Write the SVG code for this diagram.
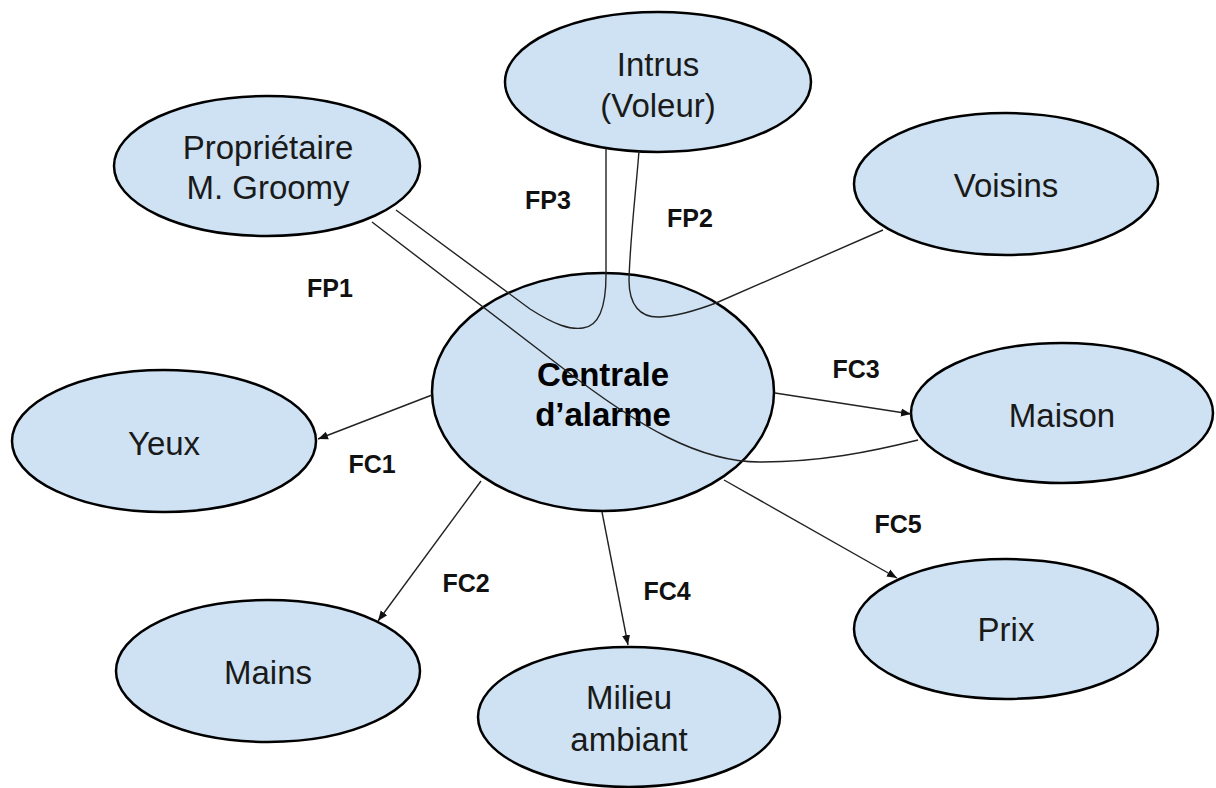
<svg xmlns="http://www.w3.org/2000/svg" width="1216" height="788" viewBox="0 0 1216 788">
<style>
.node ellipse{fill:#cfe2f3;stroke:#000;stroke-width:2.5}
.nt{font-family:"Liberation Sans",Arial,sans-serif;font-size:33px;fill:#1a1a1a;text-anchor:middle}
.bt{font-weight:bold;fill:#000}
.lbl{font-family:"Liberation Sans",Arial,sans-serif;font-size:25px;font-weight:bold;fill:#111;text-anchor:middle}
.c{fill:none;stroke:#222;stroke-width:1.4}
.a{marker-end:url(#ah)}
</style>
<defs>
<marker id="ah" markerUnits="userSpaceOnUse" markerWidth="12" markerHeight="10" refX="10" refY="5" orient="auto">
<path d="M0,1 L10,5 L0,9 Z" fill="#111"/>
</marker>
</defs>
<rect width="1216" height="788" fill="#fff"/>
<g id="proprietaire" class="node"><ellipse cx="267" cy="166" rx="153" ry="70"/><text class="nt" x="268" y="159">Propriétaire</text><text class="nt" x="268" y="199">M. Groomy</text></g>
<g id="intrus" class="node"><ellipse cx="658" cy="82" rx="153" ry="70"/><text class="nt" x="658" y="76">Intrus</text><text class="nt" x="658" y="117">(Voleur)</text></g>
<g id="voisins" class="node"><ellipse cx="1006" cy="184" rx="152" ry="71"/><text class="nt" x="1006" y="197">Voisins</text></g>
<g id="centrale" class="node"><ellipse cx="603" cy="392" rx="171" ry="119"/><text class="nt bt" x="603" y="386">Centrale</text><text class="nt bt" x="603" y="426">d’alarme</text></g>
<g id="yeux" class="node"><ellipse cx="164" cy="441" rx="152" ry="71"/><text class="nt" x="164" y="455">Yeux</text></g>
<g id="maison" class="node"><ellipse cx="1062" cy="413" rx="151" ry="70"/><text class="nt" x="1062" y="427">Maison</text></g>
<g id="mains" class="node"><ellipse cx="268" cy="671" rx="152" ry="71"/><text class="nt" x="268" y="684">Mains</text></g>
<g id="milieu" class="node"><ellipse cx="629" cy="717" rx="151" ry="70"/><text class="nt" x="629" y="709">Milieu</text><text class="nt" x="629" y="751">ambiant</text></g>
<g id="prix" class="node"><ellipse cx="1006" cy="629" rx="152" ry="70"/><text class="nt" x="1006" y="641">Prix</text></g>
<g id="connectors">
<path class="c" d="M372 222 L560 366 C640 428 700 462 760 462 C820 462 870 452 918 440"/>
<path class="c" d="M396 210 L530 309 C555 325 570 330 583 328 C600 326 606 305 606 275 L606 149"/>
<path class="c" d="M639 151 C636 190 630 240 629 280 C629 305 640 318 660 317 C680 316 700 309 716 303 L883 230"/>
<path class="c a" d="M432 395 L318 439"/>
<path class="c a" d="M481 481 L378 621"/>
<path class="c a" d="M602 512 L628 645"/>
<path class="c a" d="M775 393 L911 414"/>
<path class="c a" d="M724 480 L897 578"/>
</g>
<g id="labels">
<text class="lbl" x="548" y="209">FP3</text>
<text class="lbl" x="690" y="227">FP2</text>
<text class="lbl" x="330" y="297">FP1</text>
<text class="lbl" x="372" y="473">FC1</text>
<text class="lbl" x="856" y="378">FC3</text>
<text class="lbl" x="466" y="592">FC2</text>
<text class="lbl" x="667" y="600">FC4</text>
<text class="lbl" x="898" y="533">FC5</text>
</g>
</svg>
